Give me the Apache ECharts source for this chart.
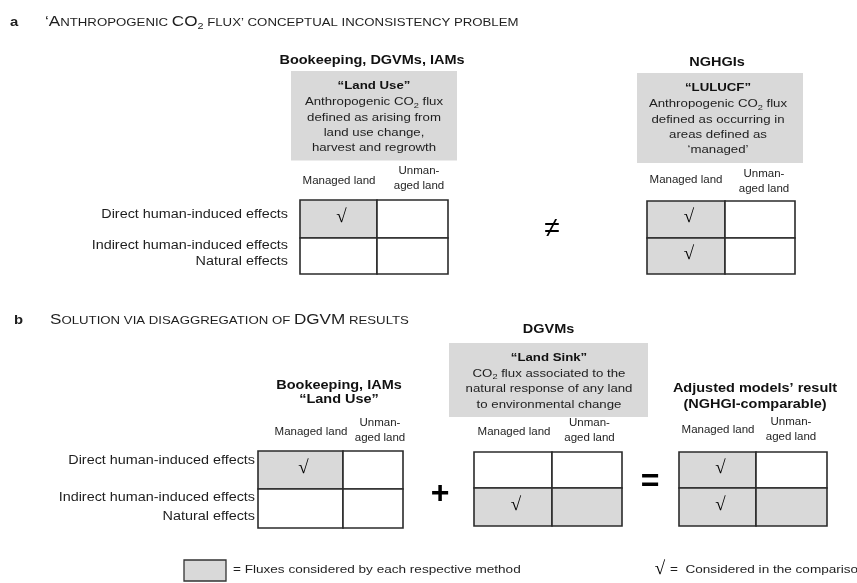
<!DOCTYPE html>
<html><head><meta charset="utf-8">
<script src="https://cdn.jsdelivr.net/npm/echarts@6/dist/echarts.min.js"></script>
<style>html,body{margin:0;padding:0;background:#fff}#c{width:857px;height:583px}</style>
</head><body><div id="c"></div>
<script>
// ---------------- content ----------------
const panelLetters = ["a", "b"];
const panelTitles = [
  "{B|‘A}{s|NTHROPOGENIC }{B|CO}{sub|2}{s| FLUX’ CONCEPTUAL INCONSISTENCY PROBLEM}",
  "{B|S}{s|OLUTION VIA DISAGGREGATION OF }{B|DGVM}{s| RESULTS}"
];
const methodTitles = [
  ["Bookeeping, DGVMs, IAMs"],
  ["NGHGIs"],
  ["Bookeeping, IAMs", "“Land Use”"],
  ["DGVMs"],
  ["Adjusted models’ result", "(NGHGI-comparable)"]
];
const definitionTitles = ["“Land Use”", "“LULUCF”", "“Land Sink”"];
const definitionTexts = [
  "Anthropogenic CO{sub|2} flux\ndefined as arising from\nland use change,\nharvest and regrowth",
  "Anthropogenic CO{sub|2} flux\ndefined as occurring in\nareas defined as\n‘managed’",
  "CO{sub|2} flux associated to the\nnatural response of any land\nto environmental change"
];
const rowLabels = [["Direct human-induced effects"], ["Indirect human-induced effects", "Natural effects"]];
const colLabels = ["Managed land", "Unman-\naged land"];
// matrices: 0 a-Bookkeeping, 1 a-NGHGI, 2 b-Bookkeeping, 3 b-DGVM, 4 b-Adjusted
const shadedCells = [
  [[1, 0], [0, 0]],
  [[1, 0], [1, 0]],
  [[1, 0], [0, 0]],
  [[0, 0], [1, 1]],
  [[1, 0], [1, 1]]
];
const checkedCells = [
  [[1, 0], [0, 0]],
  [[1, 0], [1, 0]],
  [[1, 0], [0, 0]],
  [[0, 0], [1, 0]],
  [[1, 0], [1, 0]]
];
const operators = ["≠", "+", "="];
const checkMark = "√";
const legendLabels = ["= Fluxes considered by each respective method", "=  Considered in the comparison"];

// ---------------- layout (pixel space of the hidden axes) ----------------
const LAYOUT = {
  matrices: [ // x0, xMid, x1, y0, yMid, y1
    [300, 377, 448, 200, 238, 274],
    [647, 725, 795, 201, 238, 274],
    [258, 343, 403, 451, 489, 528],
    [474, 552, 622, 452, 488, 526],
    [679, 756, 827, 452, 488, 526]
  ],
  colHeaders: [ // [managedX, managedY, unmanX, unmanY]
    [339, 181, 419, 178.5],
    [686, 180, 764, 182],
    [311, 432, 380, 430.5],
    [514, 432, 589.5, 431],
    [718, 430, 791, 429.5]
  ],
  rowLabelX: [288, 255],
  rowLabelY: [[[215], [245.5, 262]], [[461], [497.5, 516.5]]],
  methodTitles: [ // x, [y...]
    [372, [61]], [717, [63]], [339, [386, 399.5]], [548.5, [329.5]], [755, [388.5, 405]]
  ],
  defBoxes: [ // x0,y0,x1,y1, cx, titleY, textCenterY, lineHeight
    [291, 71, 457, 160.5, 374, 85.5, 125.3, 15.33],
    [637, 73, 803, 163, 718, 88, 127, 15.33],
    [449, 343, 648, 417, 549, 357.5, 389, 15.5]
  ],
  operators: [[552, 229.5, 28, 'normal'], [440, 494, 32, 'bold'], [650, 482, 32, 'bold']],
  letters: [[10, 22], [14, 320]],
  titles: [[45, 22], [50, 320]],
  legendBox: [184, 560, 226, 581],
  legendText: [[233, 570], [670, 570]],
  legendCheck: [660, 569]
};

const SX = 1.15;
const FONT = '"Liberation Sans", Arial, Helvetica, sans-serif';
const SERIF = '"Liberation Serif", "Times New Roman", serif';
const INK = '#1e1e1e';
const GRAY = '#d9d9d9';

// ---------------- build text items ----------------
const textItems = [];
function addText(x, y, text, o) { textItems.push(Object.assign({ x: x, y: y, text: text }, o || {})); }

const titleRich = {
  B: { fontSize: 15, lineHeight: 18, fontFamily: FONT, fill: INK },
  s: { fontSize: 11.6, lineHeight: 18, fontFamily: FONT, fill: INK, padding: [1.5, 0, 0, 0] },
  sub: { fontSize: 9.5, lineHeight: 8.5, verticalAlign: 'bottom', fontFamily: FONT, fill: INK }
};
panelLetters.forEach((l, i) => {
  addText(LAYOUT.letters[i][0], LAYOUT.letters[i][1], l, { size: 13.5, weight: 'bold', align: 'left', sx: 1.1 });
  addText(LAYOUT.titles[i][0], LAYOUT.titles[i][1], panelTitles[i], { size: 15, align: 'left', rich: titleRich, lh: 18, sx: 1.14 });
});
methodTitles.forEach((lines, i) => {
  const L = LAYOUT.methodTitles[i];
  lines.forEach((t, j) => addText(L[0], L[1][j], t, { size: 12.6, weight: 'bold', color: '#111' }));
});
const defRich = { sub: { fontSize: 8, lineHeight: 8.2, verticalAlign: 'bottom', fontFamily: FONT, fill: INK } };
definitionTitles.forEach((t, i) => {
  const B = LAYOUT.defBoxes[i];
  addText(B[4], B[5], t, { size: 11.5, weight: 'bold', color: '#111' });
  addText(B[4], B[6], definitionTexts[i], { size: 11.5, lh: B[7], rich: defRich });
});
LAYOUT.colHeaders.forEach(h => {
  addText(h[0], h[1], colLabels[0], { size: 10 });
  addText(h[2], h[3], colLabels[1], { size: 10, lh: 15 });
});
LAYOUT.rowLabelY.forEach((panel, p) => {
  panel.forEach((ys, r) => ys.forEach((y, k) => addText(LAYOUT.rowLabelX[p], y, rowLabels[r][k], { size: 12.5, align: 'right' })));
});
operators.forEach((o, i) => {
  const P = LAYOUT.operators[i];
  addText(P[0], P[1], o, { size: P[2], weight: P[3], color: '#000', sx: 1 });
});
addText(LAYOUT.legendText[0][0], LAYOUT.legendText[0][1], legendLabels[0], { size: 11.8, align: 'left' });
addText(LAYOUT.legendText[1][0], LAYOUT.legendText[1][1], legendLabels[1], { size: 11.8, align: 'left' });
addText(LAYOUT.legendCheck[0], LAYOUT.legendCheck[1], checkMark, { size: 19, weight: 'bold', family: SERIF, sx: 1, color: '#000' });

// ---------------- cells ----------------
const cellData = [];
shadedCells.forEach((m, mi) => m.forEach((row, r) => row.forEach((s, c) => cellData.push([mi, r, c, s, checkedCells[mi][r][c]]))));

const boxData = LAYOUT.defBoxes.map(b => [b[0], b[1], b[2], b[3], 0]);
boxData.push(LAYOUT.legendBox.concat([1]));

const chart = echarts.init(document.getElementById('c'), null, { renderer: 'canvas' });
chart.setOption({
  animation: false,
  backgroundColor: '#fff',
  grid: { left: 0, right: 0, top: 0, bottom: 0 },
  xAxis: { type: 'value', min: 0, max: 857, show: false },
  yAxis: { type: 'value', min: 0, max: 583, inverse: true, show: false },
  series: [
    {
      type: 'custom', name: 'boxes', clip: false, silent: true,
      data: boxData,
      renderItem: function (params, api) {
        const p0 = api.coord([api.value(0), api.value(1)]);
        const p1 = api.coord([api.value(2), api.value(3)]);
        const framed = api.value(4) === 1;
        return {
          type: 'rect',
          shape: { x: p0[0], y: p0[1], width: p1[0] - p0[0], height: p1[1] - p0[1] },
          style: { fill: GRAY, stroke: framed ? '#333' : null, lineWidth: framed ? 1.3 : 0 }
        };
      }
    },
    {
      type: 'custom', name: 'cells', clip: false, silent: true,
      data: cellData,
      renderItem: function (params, api) {
        const m = LAYOUT.matrices[api.value(0)];
        const r = api.value(1), c = api.value(2);
        const xs = [m[0], m[1], m[2]], ys = [m[3], m[4], m[5]];
        const p0 = api.coord([xs[c], ys[r]]);
        const p1 = api.coord([xs[c + 1], ys[r + 1]]);
        const children = [{
          type: 'rect',
          shape: { x: p0[0], y: p0[1], width: p1[0] - p0[0], height: p1[1] - p0[1] },
          style: { fill: api.value(3) ? GRAY : '#fff', stroke: '#2b2b2b', lineWidth: 1.6 }
        }];
        if (api.value(4)) {
          children.push({
            type: 'text', x: (p0[0] + p1[0]) / 2 + 3, y: (p0[1] + p1[1]) / 2 - 2,
            style: { text: checkMark, x: 0, y: 0, align: 'center', verticalAlign: 'middle', fontSize: 19, fontWeight: 'bold', fontFamily: SERIF, fill: '#000' }
          });
        }
        return { type: 'group', children: children };
      }
    },
    {
      type: 'custom', name: 'texts', clip: false, silent: true,
      data: textItems.map((t, i) => [t.x, t.y, i]),
      renderItem: function (params, api) {
        const t = textItems[api.value(2)];
        const p = api.coord([api.value(0), api.value(1)]);
        const style = {
          text: t.text, x: 0, y: 0,
          align: t.align || 'center', verticalAlign: 'middle',
          fontSize: t.size, fontFamily: t.family || FONT, fontWeight: t.weight || 'normal',
          fill: t.color || INK
        };
        if (t.lh) style.lineHeight = t.lh;
        if (t.rich) style.rich = t.rich;
        return { type: 'text', x: p[0], y: p[1], scaleX: t.sx != null ? t.sx : SX, style: style };
      }
    }
  ]
});
</script>
</body></html>
